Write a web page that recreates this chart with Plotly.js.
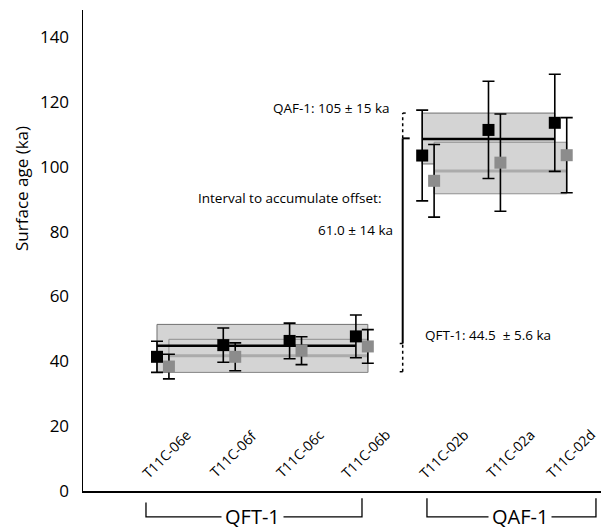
<!DOCTYPE html>
<html>
<head>
<meta charset="utf-8">
<script src="https://cdn.plot.ly/plotly-3.0.1.min.js"></script>
<style>html,body{margin:0;padding:0;background:#fff;}#chart{width:601px;height:529px;}</style>
</head>
<body>
<div id="chart"></div>
<script>
// ---- data ----
const samples = ['T11C-06e','T11C-06f','T11C-06c','T11C-06b','T11C-02b','T11C-02a','T11C-02d'];
const ageBlack = [41.4, 45.0, 46.3, 47.7, 103.5, 111.4, 113.6];
const errBlack = [4.8, 5.3, 5.5, 6.6, 14.0, 15.0, 15.0];
const ageGray  = [38.4, 41.4, 43.3, 44.6, 95.7, 101.3, 103.6];
const errGray  = [3.8, 4.3, 4.3, 5.2, 11.2, 15.0, 11.6];

const groups = ['QFT-1', 'QAF-1'];
const groupFirst = [0, 4];
const groupLast  = [3, 6];
const meanBlack  = [44.8, 108.6];
const boxBlackLo = [36.6, 100.9];
const boxBlackHi = [51.4, 116.6];
const meanGray   = [41.75, 98.7];
const boxGrayLo  = [36.6, 91.7];
const boxGrayHi  = [46.8, 107.6];

const intervalLo = 45.5, intervalHi = 108.8;
const intervalDotLo = 36.8, intervalDotHi = 116.6;

const yTicks = [0, 20, 40, 60, 80, 100, 120, 140];
const yTitle = 'Surface age (ka)';
const noteQAF = 'QAF-1: 105 ± 15 ka';
const noteInterval = 'Interval to accumulate offset:';
const noteOffset = '61.0 ± 14 ka';
const noteQFT = 'QFT-1: 44.5\u00A0 ± 5.6 ka';

// ---- layout helpers ----
const G = 0.18; // gray marker offset (x units)
const xi = samples.map((s, i) => i);
const xg = samples.map((s, i) => i + G);

const traces = [
  {
    x: xg, y: ageGray, type: 'scatter', mode: 'markers',
    marker: {symbol: 'square', size: 12, color: '#8c8c8c'},
    error_y: {type: 'data', array: errGray, visible: true, color: '#000', thickness: 1.6, width: 6},
    hoverinfo: 'skip', cliponaxis: false
  },
  {
    x: xi, y: ageBlack, type: 'scatter', mode: 'markers',
    marker: {symbol: 'square', size: 12, color: '#000'},
    error_y: {type: 'data', array: errBlack, visible: true, color: '#000', thickness: 1.6, width: 6},
    hoverinfo: 'skip', cliponaxis: false
  }
];

const shapes = [];
groups.forEach((g, k) => {
  const a = groupFirst[k], b = groupLast[k];
  const bx1 = k === 0 ? b + G : b;
  shapes.push({type: 'rect', layer: 'below', xref: 'x', yref: 'y', x0: a, x1: bx1,
    y0: boxBlackLo[k], y1: boxBlackHi[k], fillcolor: '#d4d4d4', line: {color: '#707070', width: 1}});
  shapes.push({type: 'rect', layer: 'below', xref: 'x', yref: 'y', x0: a + G, x1: b + G,
    y0: boxGrayLo[k], y1: boxGrayHi[k], fillcolor: '#d4d4d4', line: {color: '#8f8f8f', width: 1}});
  shapes.push({type: 'line', layer: 'below', xref: 'x', yref: 'y', x0: a + G, x1: b + G,
    y0: meanGray[k], y1: meanGray[k], line: {color: '#ababab', width: 3}});
  shapes.push({type: 'line', layer: 'below', xref: 'x', yref: 'y', x0: a, x1: b,
    y0: meanBlack[k], y1: meanBlack[k], line: {color: '#000', width: 2.6}});
});

// interval bracket
const bx = 3.706;
const px = 1 / 66.3;
shapes.push({type: 'line', xref: 'x', yref: 'y', x0: bx, x1: bx, y0: intervalLo, y1: intervalHi, line: {color: '#000', width: 2}});
shapes.push({type: 'line', xref: 'x', yref: 'y', x0: bx, x1: bx, y0: intervalHi, y1: intervalDotHi, line: {color: '#000', width: 1.5, dash: 'dot'}});
shapes.push({type: 'line', xref: 'x', yref: 'y', x0: bx, x1: bx, y0: intervalDotLo, y1: intervalLo, line: {color: '#000', width: 1.5, dash: 'dot'}});
shapes.push({type: 'line', xref: 'x', yref: 'y', x0: bx, x1: bx + 7 * px, y0: intervalHi, y1: intervalHi, line: {color: '#000', width: 2}});
shapes.push({type: 'line', xref: 'x', yref: 'y', x0: bx, x1: bx + 3 * px, y0: intervalDotHi, y1: intervalDotHi, line: {color: '#000', width: 1.5}});
shapes.push({type: 'line', xref: 'x', yref: 'y', x0: bx - 3 * px, x1: bx, y0: intervalLo, y1: intervalLo, line: {color: '#000', width: 1.5}});
shapes.push({type: 'line', xref: 'x', yref: 'y', x0: bx - 3 * px, x1: bx, y0: intervalDotLo, y1: intervalDotLo, line: {color: '#000', width: 1.5}});

// group brackets below the axis
const bTop = -0.015, bBot = -0.054;
groups.forEach((g, k) => {
  const l = k === 0 ? -0.166 : 4.072;
  const r = k === 0 ? 3.092 : 6.621;
  const lt = k === 0 ? -0.024 : bTop;
  shapes.push({type: 'path', xref: 'x', yref: 'paper',
    path: `M ${l} ${lt} L ${l} ${bBot} L ${r} ${bBot} L ${r} ${bTop}`,
    line: {color: '#000', width: 1.3}});
});

const annotations = [];
samples.forEach((s, i) => {
  annotations.push({x: i, y: 11.5, xref: 'x', yref: 'y', text: s, showarrow: false,
    textangle: -45, xshift: i < 4 ? 10 : (i < 6 ? 22 : 16), font: {size: 14, color: '#000'}});
});
groups.forEach((g, k) => {
  const cx = k === 0 ? 1.44 : 5.468;
  annotations.push({x: cx, y: bBot, xref: 'x', yref: 'paper', text: g, showarrow: false,
    bgcolor: '#fff', borderpad: 3, yanchor: 'middle', font: {size: 20, color: '#000'}});
});
annotations.push({x: -0.1178, y: 0.63, xref: 'paper', yref: 'paper', text: yTitle, showarrow: false,
  textangle: -90, xanchor: 'center', yanchor: 'middle', font: {size: 17, color: '#000000'}});
annotations.push({x: 3.545, y: 118.2, xref: 'x', yref: 'y', text: noteQAF, showarrow: false, xanchor: 'right', font: {size: 13.5, color: '#000'}});
annotations.push({x: 3.41, y: 90.4, xref: 'x', yref: 'y', text: noteInterval, showarrow: false, xanchor: 'right', font: {size: 13.5, color: '#000'}});
annotations.push({x: 3.59, y: 80.5, xref: 'x', yref: 'y', text: noteOffset, showarrow: false, xanchor: 'right', font: {size: 13.5, color: '#000'}});
annotations.push({x: 4.01, y: 48.1, xref: 'x', yref: 'y', text: noteQFT, showarrow: false, xanchor: 'left', font: {size: 13.5, color: '#000'}});

const layout = {
  width: 601, height: 529,
  margin: {l: 83, r: 0, t: 10, b: 38, pad: 0},
  paper_bgcolor: '#fff', plot_bgcolor: '#fff',
  font: {family: '"Open Sans", "Noto Sans", sans-serif', color: '#000'},
  showlegend: false,
  xaxis: {range: [-1.116, 6.697], showline: true, linecolor: '#000', linewidth: 1.5,
    showgrid: false, zeroline: false, showticklabels: false, ticks: '', fixedrange: true},
  yaxis: {range: [0, 148.4], showline: true, linecolor: '#000', linewidth: 1.5,
    showgrid: false, zeroline: false, ticks: '', tickvals: yTicks,
    tickfont: {size: 17, color: '#000'}, ticklabelstandoff: 9, fixedrange: true},
  shapes: shapes,
  annotations: annotations
};

Plotly.newPlot('chart', traces, layout, {displayModeBar: false, staticPlot: true});
</script>
</body>
</html>
